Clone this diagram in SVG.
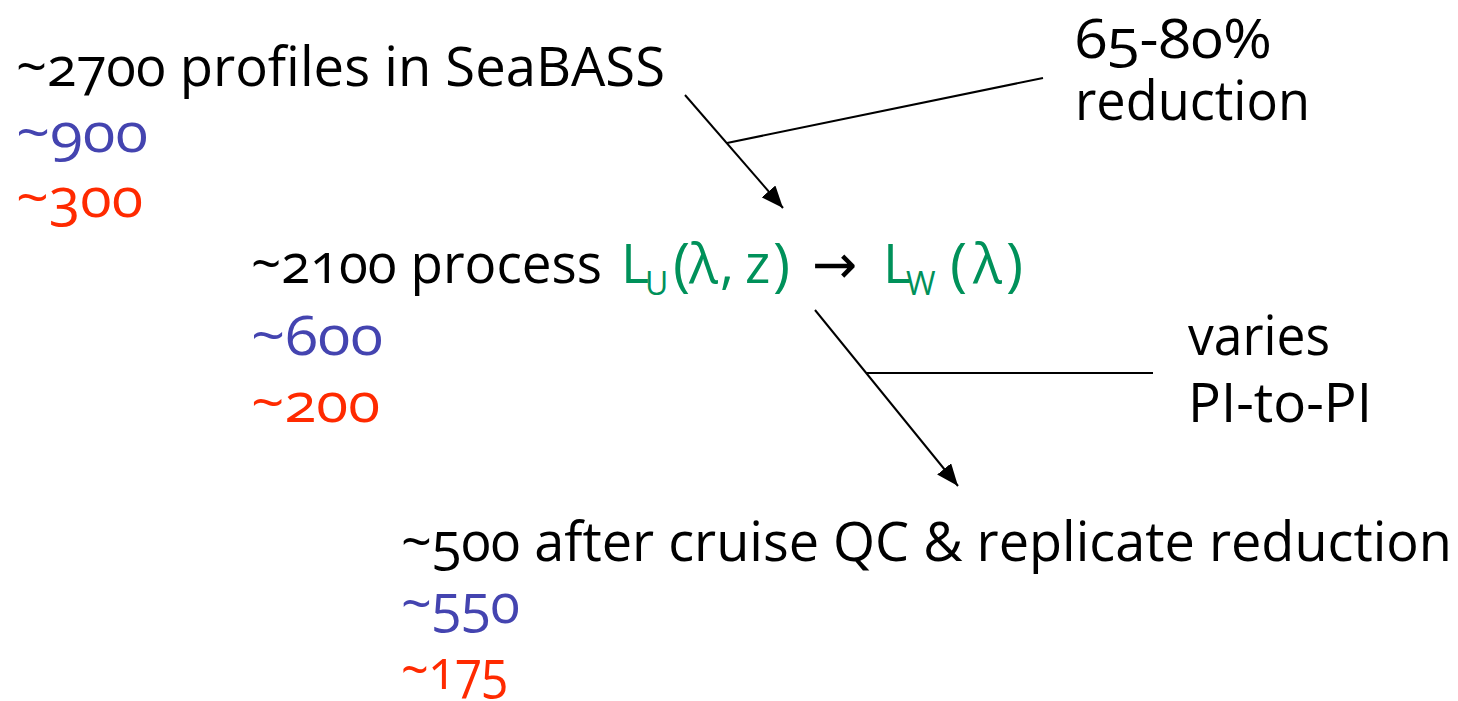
<svg xmlns="http://www.w3.org/2000/svg" width="1458" height="701" viewBox="0 0 1458 701">
<defs>
<style>
text{font-family:"Open Sans","Noto Sans","Liberation Sans",sans-serif;font-size:54px;fill:#000;font-variant-numeric:oldstyle-nums;}
.b{fill:#4444b0}
.r{fill:#ff2a00}
.g{fill:#00915a}
.sub{font-size:32px}
.par{font-size:58px}
.arr{font-family:"DejaVu Sans",sans-serif;font-size:54px;fill:#000}
.ln{stroke:#000;stroke-width:2;fill:none}
</style>
<marker id="ah2" viewBox="0 0 22 18" refX="22" refY="9" markerWidth="22" markerHeight="18" markerUnits="userSpaceOnUse" orient="auto">
<path d="M0,0 L22,9 L0,18 z" fill="#000"/>
</marker>
</defs>
<rect width="1458" height="701" fill="#fff"/>
<g id="n1">
<text x="16" y="86" textLength="649" lengthAdjust="spacingAndGlyphs">~2700 profiles in SeaBASS</text>
<text class="b" x="16" y="152" textLength="132" lengthAdjust="spacingAndGlyphs">~900</text>
<text class="r" x="16" y="217" textLength="127" lengthAdjust="spacingAndGlyphs">~300</text>
</g>
<g id="n2">
<text x="251" y="283" textLength="351" lengthAdjust="spacingAndGlyphs">~2100 process</text>
<text class="g" y="283"><tspan x="621">L</tspan><tspan class="sub" x="645" y="295">U</tspan><tspan class="par" x="673" y="285">(</tspan><tspan x="689" y="283">λ</tspan><tspan x="720">,</tspan><tspan x="745">z</tspan><tspan class="par" x="773" y="285">)</tspan><tspan class="arr" x="812" y="283">→</tspan><tspan x="883">L</tspan><tspan class="sub" x="906" y="295">W</tspan><tspan class="par" x="950" y="285">(</tspan><tspan x="973" y="283">λ</tspan><tspan class="par" x="1006" y="285">)</tspan></text>
<text class="b" x="251" y="355" textLength="132" lengthAdjust="spacingAndGlyphs">~600</text>
<text class="r" x="251" y="422" textLength="129" lengthAdjust="spacingAndGlyphs">~200</text>
</g>
<g id="n3">
<text x="401" y="561" textLength="1051" lengthAdjust="spacingAndGlyphs">~500 after cruise QC &amp; replicate reduction</text>
<text class="b" x="401" y="623" textLength="119" lengthAdjust="spacingAndGlyphs">~550</text>
<text class="r" x="401" y="689" textLength="107" lengthAdjust="spacingAndGlyphs">~175</text>
</g>
<g id="lab1">
<text x="1075" y="58" textLength="197" lengthAdjust="spacingAndGlyphs">65-80%</text>
<text x="1075" y="120" textLength="235" lengthAdjust="spacingAndGlyphs">reduction</text>
</g>
<g id="lab2">
<text x="1188" y="355" textLength="142" lengthAdjust="spacingAndGlyphs">varies</text>
<text x="1188" y="422" textLength="184" lengthAdjust="spacingAndGlyphs">PI-to-PI</text>
</g>
<g id="connectors">
<line class="ln" x1="685" y1="95" x2="783" y2="208" marker-end="url(#ah2)"/>
<line class="ln" x1="727" y1="143" x2="1043" y2="78"/>
<line class="ln" x1="815" y1="310" x2="958" y2="486" marker-end="url(#ah2)"/>
<line class="ln" x1="866" y1="373" x2="1153" y2="373"/>
</g>
</svg>
